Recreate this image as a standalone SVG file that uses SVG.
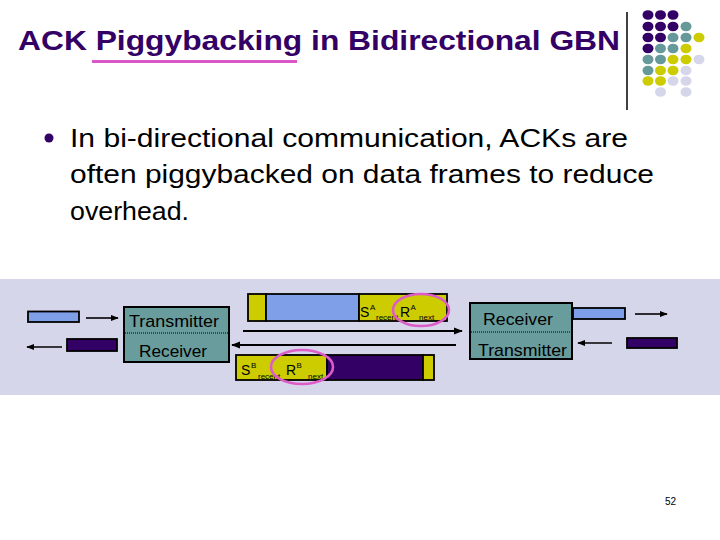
<svg xmlns="http://www.w3.org/2000/svg" width="720" height="540" viewBox="0 0 720 540">
<defs>
<style>
.title{font-family:"Liberation Sans",Arial,sans-serif;font-weight:bold;font-size:28px;fill:#330066}
.body{font-family:"Liberation Sans",Arial,sans-serif;font-size:26px;fill:#000}
.lbl{font-family:"Liberation Sans",Arial,sans-serif;font-size:17px;fill:#000}
.fl{font-family:"Liberation Sans",Arial,sans-serif;font-size:14px;fill:#000}
.sup{font-size:8px}
.pg{font-family:"Liberation Sans",Arial,sans-serif;font-size:10px;fill:#000}
.box{fill:#699c9c;stroke:#000;stroke-width:2}
.dot{fill:none;stroke:#000;stroke-width:1;stroke-dasharray:1 1}
.blue{fill:#7f9fe8;stroke:#000;stroke-width:1.8}
.purp{fill:#330066;stroke:#000;stroke-width:1.8}
.yel{fill:#cccc00;stroke:#000;stroke-width:1.8}
.ring{fill:none;stroke:#dd5cc8;stroke-width:2.6}
.ln{stroke:#000;stroke-width:2;fill:none}
.lns{stroke:#000;stroke-width:1.6;fill:none}
.dP{fill:#330066}.dT{fill:#669999}.dY{fill:#cccc00}.dL{fill:#d6d6eb}
</style>
<marker id="ah" viewBox="0 0 10 10" refX="9" refY="5" markerWidth="4.5" markerHeight="4.5" orient="auto" markerUnits="strokeWidth">
<path d="M0,1 L10,5 L0,9 z" fill="#000"/>
</marker>
<marker id="ahs" viewBox="0 0 10 10" refX="9" refY="5" markerWidth="5" markerHeight="5" orient="auto" markerUnits="strokeWidth">
<path d="M0,1 L10,5 L0,9 z" fill="#000"/>
</marker>
</defs>
<rect width="720" height="540" fill="#fff"/>

<g id="title">
<text class="title" x="18" y="50" textLength="602" lengthAdjust="spacingAndGlyphs">ACK Piggybacking in Bidirectional GBN</text>
<line x1="92" y1="61.5" x2="297" y2="61.5" stroke="#d957c6" stroke-width="3"/>
</g>

<g id="decor">
<line x1="627" y1="12" x2="627" y2="110" stroke="#000" stroke-width="1.5"/>
<g>
<ellipse class="dP" cx="648" cy="15" rx="5.5" ry="4.8"/><ellipse class="dP" cx="660.5" cy="15" rx="5.5" ry="4.8"/><ellipse class="dP" cx="673" cy="15" rx="5.5" ry="4.8"/>
<ellipse class="dP" cx="648" cy="26.5" rx="5.5" ry="4.8"/><ellipse class="dP" cx="660.5" cy="26.5" rx="5.5" ry="4.8"/><ellipse class="dP" cx="673" cy="26.5" rx="5.5" ry="4.8"/><ellipse class="dT" cx="686" cy="26.5" rx="5.5" ry="4.8"/>
<ellipse class="dP" cx="648" cy="37.5" rx="5.5" ry="4.8"/><ellipse class="dP" cx="660.5" cy="37.5" rx="5.5" ry="4.8"/><ellipse class="dT" cx="673" cy="37.5" rx="5.5" ry="4.8"/><ellipse class="dT" cx="686" cy="37.5" rx="5.5" ry="4.8"/><ellipse class="dY" cx="699" cy="37.5" rx="5.5" ry="4.8"/>
<ellipse class="dP" cx="648" cy="48.5" rx="5.5" ry="4.8"/><ellipse class="dT" cx="660.5" cy="48.5" rx="5.5" ry="4.8"/><ellipse class="dT" cx="673" cy="48.5" rx="5.5" ry="4.8"/><ellipse class="dY" cx="686" cy="48.5" rx="5.5" ry="4.8"/>
<ellipse class="dT" cx="648" cy="59.5" rx="5.5" ry="4.8"/><ellipse class="dT" cx="660.5" cy="59.5" rx="5.5" ry="4.8"/><ellipse class="dY" cx="673" cy="59.5" rx="5.5" ry="4.8"/><ellipse class="dY" cx="686" cy="59.5" rx="5.5" ry="4.8"/><ellipse class="dL" cx="699" cy="59.5" rx="5.5" ry="4.8"/>
<ellipse class="dT" cx="648" cy="70.5" rx="5.5" ry="4.8"/><ellipse class="dY" cx="660.5" cy="70.5" rx="5.5" ry="4.8"/><ellipse class="dY" cx="673" cy="70.5" rx="5.5" ry="4.8"/><ellipse class="dL" cx="686" cy="70.5" rx="5.5" ry="4.8"/>
<ellipse class="dY" cx="648" cy="81" rx="5.5" ry="4.8"/><ellipse class="dY" cx="660.5" cy="81" rx="5.5" ry="4.8"/><ellipse class="dL" cx="673" cy="81" rx="5.5" ry="4.8"/><ellipse class="dL" cx="686" cy="81" rx="5.5" ry="4.8"/>
<ellipse class="dL" cx="660.5" cy="92" rx="5.5" ry="4.8"/><ellipse class="dL" cx="686" cy="92" rx="5.5" ry="4.8"/>
</g>
</g>

<g id="bullet">
<circle cx="49" cy="138" r="4.5" fill="#330066"/>
<text class="body" x="70" y="147" textLength="558" lengthAdjust="spacingAndGlyphs">In bi-directional communication, ACKs are</text>
<text class="body" x="70" y="183" textLength="584" lengthAdjust="spacingAndGlyphs">often piggybacked on data frames to reduce</text>
<text class="body" x="70" y="220" textLength="119" lengthAdjust="spacingAndGlyphs">overhead.</text>
</g>

<rect id="band" x="0" y="279" width="720" height="116" fill="#d6d6ea"/>

<g id="left-in"><rect class="blue" x="28" y="311.5" width="51" height="10.5"/></g>
<g id="left-out"><rect class="purp" x="67" y="339" width="50" height="12"/></g>
<g id="right-out"><rect class="blue" x="573" y="308" width="52" height="11"/></g>
<g id="right-in"><rect class="purp" x="627" y="338" width="50" height="10"/></g>

<g id="station-a">
<rect class="box" x="124" y="307" width="105" height="55"/>
<line class="dot" x1="125" y1="333" x2="228" y2="333"/>
<text class="lbl" x="129" y="327" textLength="90" lengthAdjust="spacingAndGlyphs">Transmitter</text>
<text class="lbl" x="139" y="357" textLength="68" lengthAdjust="spacingAndGlyphs">Receiver</text>
</g>

<g id="station-b">
<rect class="box" x="470" y="303" width="102" height="56"/>
<line class="dot" x1="471" y1="332" x2="571" y2="332"/>
<text class="lbl" x="483" y="325" textLength="70" lengthAdjust="spacingAndGlyphs">Receiver</text>
<text class="lbl" x="478" y="356" textLength="89" lengthAdjust="spacingAndGlyphs">Transmitter</text>
</g>

<g id="frame-a">
<rect class="yel" x="248" y="294" width="18" height="27"/>
<rect class="blue" x="266" y="294" width="93" height="27"/>
<rect class="yel" x="359" y="294" width="88" height="27"/>
<text class="fl"><tspan x="360" y="317">S</tspan><tspan class="sup" x="370" y="310">A</tspan><tspan class="sup" x="376" y="320">recent</tspan><tspan x="400" y="317">R</tspan><tspan class="sup" x="410.5" y="310">A</tspan><tspan class="sup" x="419" y="320">next</tspan></text>
<ellipse class="ring" cx="421" cy="310" rx="28" ry="16"/>
</g>

<g id="frame-b">
<rect class="yel" x="236" y="355" width="91" height="25"/>
<rect class="purp" x="327" y="355" width="96" height="25"/>
<rect class="yel" x="423" y="355" width="11" height="25"/>
<text class="fl"><tspan x="241" y="375">S</tspan><tspan class="sup" x="251" y="368">B</tspan><tspan class="sup" x="258" y="379">recent</tspan><tspan x="286" y="375">R</tspan><tspan class="sup" x="296.5" y="368">B</tspan><tspan class="sup" x="308" y="379">next</tspan></text>
<ellipse class="ring" cx="302" cy="367" rx="31" ry="17"/>
</g>

<g id="connectors">
<line class="lns" x1="86" y1="318" x2="118" y2="318" marker-end="url(#ahs)"/>
<line class="lns" x1="62" y1="347" x2="27" y2="347" marker-end="url(#ahs)"/>
<line class="ln" x1="243" y1="331" x2="462" y2="331" marker-end="url(#ah)"/>
<line class="ln" x1="456" y1="345" x2="232" y2="345" marker-end="url(#ah)"/>
<line class="lns" x1="635" y1="314" x2="667" y2="314" marker-end="url(#ahs)"/>
<line class="lns" x1="612" y1="343" x2="578" y2="343" marker-end="url(#ahs)"/>
</g>

<text class="pg" x="665" y="505">52</text>
</svg>
